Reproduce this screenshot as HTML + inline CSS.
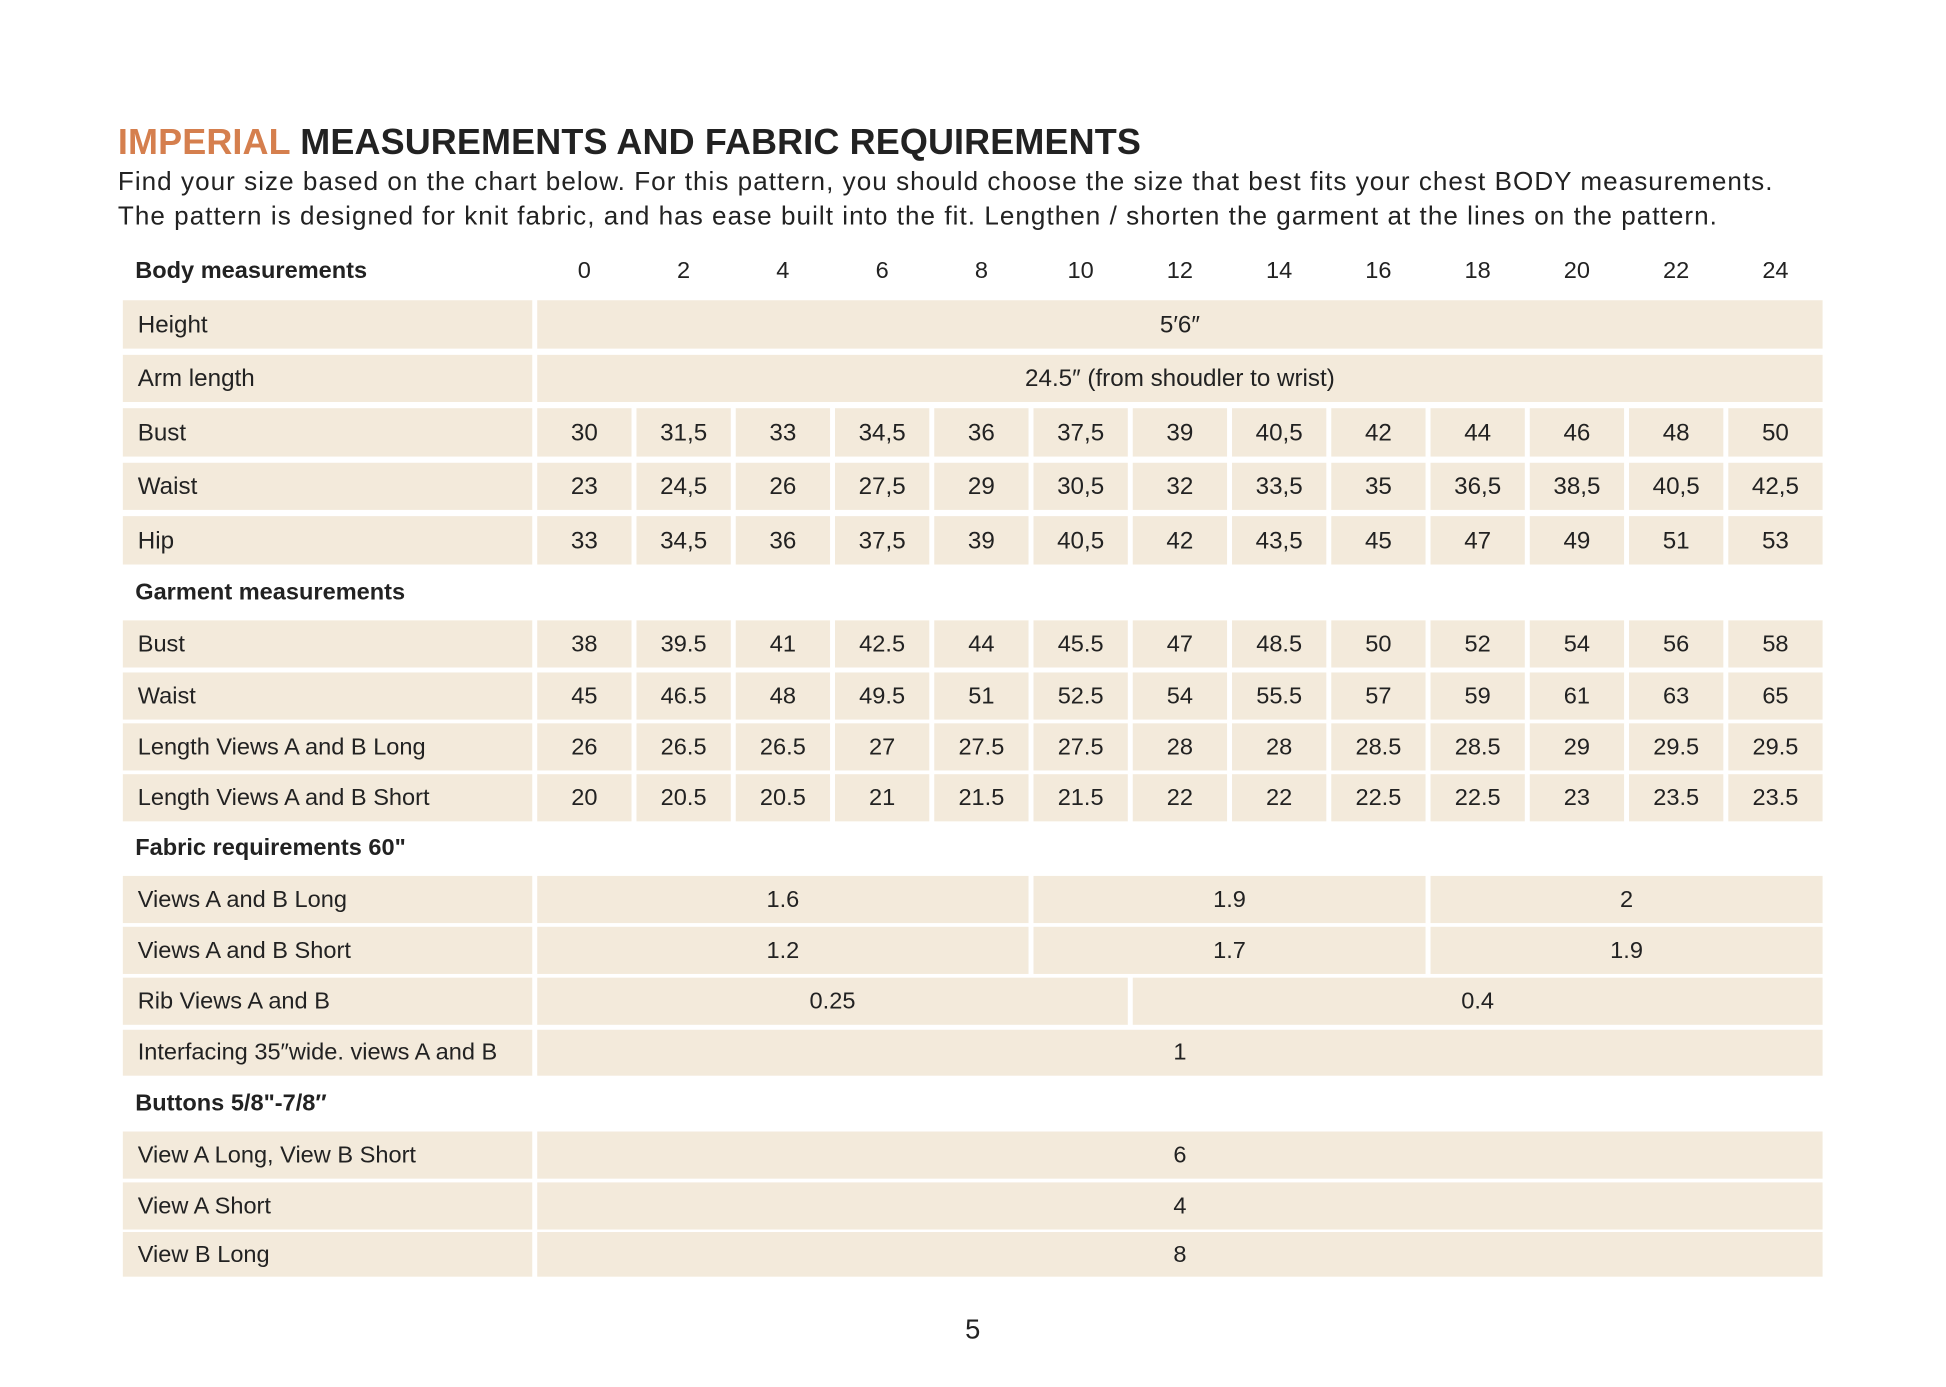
<!DOCTYPE html>
<html><head><meta charset="utf-8"><style>
html,body{margin:0;padding:0;background:#fff;}
body{width:1946px;height:1387px;overflow:hidden;}
#w{position:absolute;left:0;top:0;width:1570px;height:1118px;transform:scale(1.2407);transform-origin:0 0;font-family:"Liberation Sans",sans-serif;color:#222;}
.t{position:absolute;left:95px;top:99px;font-size:29px;font-weight:bold;white-space:nowrap;letter-spacing:0.1px}
.t span{color:#d57f4e}
.p{position:absolute;left:95px;font-size:21px;white-space:nowrap;letter-spacing:0.84px}
.r{position:absolute;left:99px;display:flex;gap:4px;}
.r div{background:#f3eadb;display:flex;align-items:center;justify-content:center;font-size:19.5px;width:76px;flex:none;padding-top:1px;box-sizing:border-box}
.r div.l{width:330px;justify-content:flex-start;padding-left:12px}
.h{position:absolute;left:99px;display:flex;gap:4px;font-weight:bold;font-size:19px}
.h div{width:76px;text-align:center;flex:none}
.h div.l{width:330px;text-align:left;padding-left:10px;box-sizing:border-box}
.g div{font-size:19px}
</style></head><body><div id="w">
<div class="t"><span>IMPERIAL</span> MEASUREMENTS AND FABRIC REQUIREMENTS</div>
<div class="p" style="top:135px">Find your size based on the chart below. For this pattern, you should choose the size that best fits your chest BODY measurements.</div>
<div class="p" style="top:163px">The pattern is designed for knit fabric, and has ease built into the fit. Lengthen / shorten the garment at the lines on the pattern.</div>

<div class="h" style="top:208px"><div class="l">Body measurements</div><div style="font-weight:normal">0</div><div style="font-weight:normal">2</div><div style="font-weight:normal">4</div><div style="font-weight:normal">6</div><div style="font-weight:normal">8</div><div style="font-weight:normal">10</div><div style="font-weight:normal">12</div><div style="font-weight:normal">14</div><div style="font-weight:normal">16</div><div style="font-weight:normal">18</div><div style="font-weight:normal">20</div><div style="font-weight:normal">22</div><div style="font-weight:normal">24</div></div>

<div class="r" style="top:242px;height:39px"><div class="l">Height</div><div style="width:1036px">5′6″</div></div>
<div class="r" style="top:286px;height:38px"><div class="l">Arm length</div><div style="width:1036px">24.5″ (from shoudler to wrist)</div></div>
<div class="r" style="top:329px;height:39px"><div class="l">Bust</div><div>30</div><div>31,5</div><div>33</div><div>34,5</div><div>36</div><div>37,5</div><div>39</div><div>40,5</div><div>42</div><div>44</div><div>46</div><div>48</div><div>50</div></div>
<div class="r" style="top:373px;height:38px"><div class="l">Waist</div><div>23</div><div>24,5</div><div>26</div><div>27,5</div><div>29</div><div>30,5</div><div>32</div><div>33,5</div><div>35</div><div>36,5</div><div>38,5</div><div>40,5</div><div>42,5</div></div>
<div class="r" style="top:416px;height:39px"><div class="l">Hip</div><div>33</div><div>34,5</div><div>36</div><div>37,5</div><div>39</div><div>40,5</div><div>42</div><div>43,5</div><div>45</div><div>47</div><div>49</div><div>51</div><div>53</div></div>

<div class="h" style="top:467px"><div class="l">Garment measurements</div></div>
<div class="r g" style="top:500px;height:38px"><div class="l">Bust</div><div>38</div><div>39.5</div><div>41</div><div>42.5</div><div>44</div><div>45.5</div><div>47</div><div>48.5</div><div>50</div><div>52</div><div>54</div><div>56</div><div>58</div></div>
<div class="r g" style="top:542px;height:38px"><div class="l">Waist</div><div>45</div><div>46.5</div><div>48</div><div>49.5</div><div>51</div><div>52.5</div><div>54</div><div>55.5</div><div>57</div><div>59</div><div>61</div><div>63</div><div>65</div></div>
<div class="r g" style="top:583px;height:38px"><div class="l">Length Views A and B Long</div><div>26</div><div>26.5</div><div>26.5</div><div>27</div><div>27.5</div><div>27.5</div><div>28</div><div>28</div><div>28.5</div><div>28.5</div><div>29</div><div>29.5</div><div>29.5</div></div>
<div class="r g" style="top:624px;height:38px"><div class="l">Length Views A and B Short</div><div>20</div><div>20.5</div><div>20.5</div><div>21</div><div>21.5</div><div>21.5</div><div>22</div><div>22</div><div>22.5</div><div>22.5</div><div>23</div><div>23.5</div><div>23.5</div></div>

<div class="h" style="top:673px"><div class="l">Fabric requirements 60"</div></div>
<div class="r g" style="top:706px;height:38px"><div class="l">Views A and B Long</div><div style="width:396px">1.6</div><div style="width:316px">1.9</div><div style="width:316px">2</div></div>
<div class="r g" style="top:747px;height:38px"><div class="l">Views A and B Short</div><div style="width:396px">1.2</div><div style="width:316px">1.7</div><div style="width:316px">1.9</div></div>
<div class="r g" style="top:788px;height:38px"><div class="l">Rib Views A and B</div><div style="width:476px">0.25</div><div style="width:556px">0.4</div></div>
<div class="r g" style="top:830px;height:37px"><div class="l">Interfacing 35″wide. views A and B</div><div style="width:1036px">1</div></div>

<div class="h" style="top:879px"><div class="l">Buttons 5/8"-7/8″</div></div>
<div class="r g" style="top:912px;height:38px"><div class="l">View A Long, View B Short</div><div style="width:1036px">6</div></div>
<div class="r g" style="top:953px;height:38px"><div class="l">View A Short</div><div style="width:1036px">4</div></div>
<div class="r g" style="top:993px;height:36px"><div class="l">View B Long</div><div style="width:1036px">8</div></div>

<div style="position:absolute;left:0;width:1568px;text-align:center;top:1059px;font-size:22px">5</div>
</div></body></html>
